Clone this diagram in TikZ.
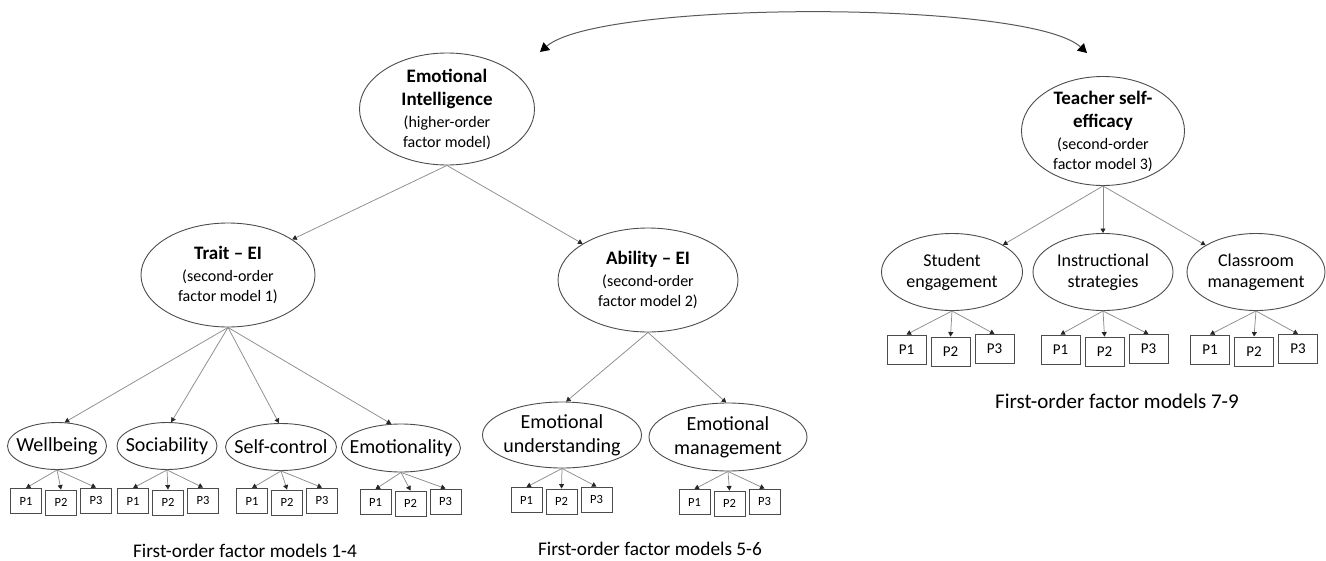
\documentclass[tikz,border=0pt]{standalone}
\usepackage{fontspec}
\setmainfont{Carlito}
\usepackage{tikz}
\usetikzlibrary{arrows.meta, shapes, positioning}

\newcommand{\ttl}[1]{{\fontsize{19}{20}\selectfont\bfseries #1}}

\begin{document}
\begin{tikzpicture}[x=1pt,y=-1pt,
    latent/.style={ellipse, draw=black!70, line width=0.9pt, inner sep=-12pt,
        align=center, font=\fontsize{16}{20}\selectfont},
    factor/.style={ellipse, draw=black!70, line width=0.9pt, inner sep=-12pt,
        align=center, font=\fontsize{20}{24}\selectfont},
    indicator/.style={draw=black!70, line width=0.9pt, minimum width=31pt,
        minimum height=25pt, inner sep=0pt, font=\fontsize{12.5}{14}\selectfont},
    indicatorL/.style={indicator, minimum width=39pt, minimum height=29pt,
        font=\fontsize{15}{17}\selectfont},
    load/.style={draw=black!45, line width=0.75pt,
        -{Triangle[width=5pt,length=4.5pt,color=black!85]}},
    caption/.style={anchor=base, font=\fontsize{19.3}{22}\selectfont}]
    \useasboundingbox (0,0) rectangle (1326,560);

    % higher-order and second-order factors
    \node[latent, minimum width=175pt, minimum height=112pt] (ei) at (447,109)
        {\ttl{Emotional}\\[3pt]\ttl{Intelligence}\\[2pt](higher-order\\factor model)};
    \node[latent, minimum width=174pt, minimum height=104pt] (trait) at (228,275)
        {\ttl{Trait -- EI}\\[2pt](second-order\\factor model 1)};
    \node[latent, minimum width=180pt, minimum height=104pt] (ability) at (648,280)
        {\ttl{Ability -- EI}\\[2pt](second-order\\factor model 2)};
    \node[latent, minimum width=163pt, minimum height=109pt] (tse) at (1103,131)
        {\ttl{Teacher self-}\\[3pt]\ttl{efficacy}\\[2pt](second-order\\factor model 3)};

    % first-order factors
    \node[factor, minimum width=99pt, minimum height=47pt] (wellb) at (57,446) {Wellbeing};
    \node[factor, minimum width=100pt, minimum height=47pt] (socia) at (167,446) {Sociability};
    \node[factor, minimum width=111pt, minimum height=47pt] (selfc) at (281,447) {Self-control};
    \node[factor, minimum width=119pt, minimum height=48pt] (emoti) at (401,448) {Emotionality};
    \node[factor, minimum width=159pt, minimum height=66pt] (emund) at (562,435) {Emotional\\understanding};
    \node[factor, minimum width=158pt, minimum height=68pt] (emman) at (728,437) {Emotional\\management};
    \node[factor, font=\fontsize{18}{21}\selectfont, minimum width=141pt, minimum height=77pt]
        (stude) at (952,272) {Student\\engagement};
    \node[factor, font=\fontsize{18}{21}\selectfont, minimum width=140pt, minimum height=77pt]
        (instr) at (1103,272) {Instructional\\strategies};
    \node[factor, font=\fontsize{18}{21}\selectfont, minimum width=138pt, minimum height=77pt]
        (class) at (1256,272) {Classroom\\management};

    \draw[load] (ei.south) -- (trait.29);
    \draw[load] (ei.south) -- (ability.151);
    \draw[load] (trait.south) -- (wellb.72);
    \draw[load] (trait.south) -- (socia.80);
    \draw[load] (trait.south) -- (selfc.95);
    \draw[load] (trait.south) -- (emoti.112);
    \draw[load] (ability.south) -- (emund.83);
    \draw[load] (ability.south) -- (emman.93);
    \draw[load] (tse.south) -- (stude.28);
    \draw[load] (tse.south) -- (instr.north);
    \draw[load] (tse.south) -- (class.152);

    % indicators
    \foreach \f/\cx/\cy in {wellb/61/501, socia/168/501, selfc/287/501,
                            emoti/410.5/502, emund/561.5/500, emman/729.5/502} {
        \node[indicator] (\f1) at (\cx-35,\cy) {P1};
        \node[indicator] (\f2) at (\cx,\cy+1.5) {P2};
        \node[indicator] (\f3) at (\cx+35,\cy-0.5) {P3};
        \foreach \i in {1,2,3}
            \draw[load] (\f.south) -- (\f\i.north);
    }
    \foreach \f/\cx in {stude/950.5, instr/1104.5, class/1254} {
        \node[indicatorL] (\f1) at (\cx-44,349.5) {P1};
        \node[indicatorL] (\f2) at (\cx,351.5) {P2};
        \node[indicatorL] (\f3) at (\cx+44,349) {P3};
        \foreach \i in {1,2,3}
            \draw[load] (\f.south) -- (\f\i.north);
    }

    % captions
    \node[caption] (cap1) at (245,557) {First-order factor models 1-4};
    \node[caption] (cap2) at (650,555) {First-order factor models 5-6};
    \node[caption, font=\fontsize{21}{24}\selectfont] (cap3) at (1117,408)
        {First-order factor models 7-9};

    % correlation between the two constructs
    \coordinate (ltip) at (540,52);
    \coordinate (rtip) at (1087,53);
    \draw[black!65, line width=1pt, {Triangle[width=10pt,length=9pt,color=black]}-{Triangle[width=10pt,length=9pt,color=black]}]
        (ltip) .. controls (600,0) and (1030,0) .. (rtip);
\end{tikzpicture}
\end{document}
